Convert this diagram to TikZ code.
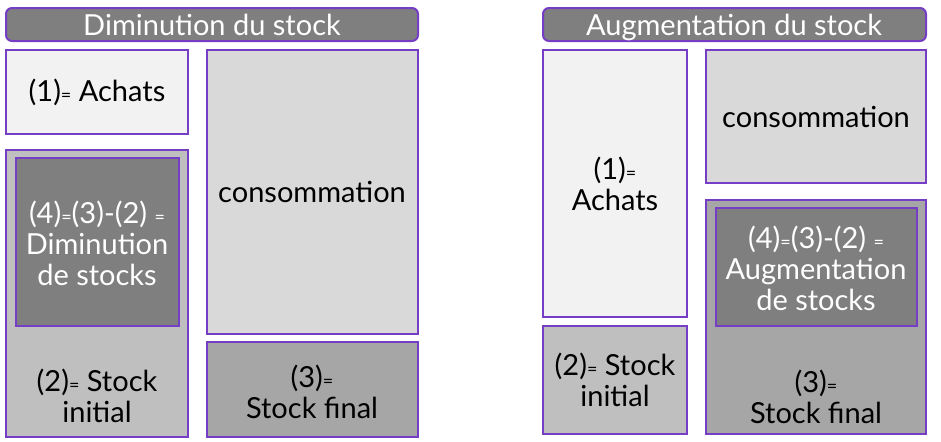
\documentclass[tikz,border=0pt]{standalone}
\usepackage{fontspec}
\setmainfont{Lato}
\definecolor{bord}{RGB}{118,62,196}
\definecolor{titre}{RGB}{127,127,127}
\definecolor{achat}{RGB}{242,242,242}
\definecolor{conso}{RGB}{217,217,217}
\definecolor{sinit}{RGB}{191,191,191}
\definecolor{sfinal}{RGB}{166,166,166}
\newcommand{\eg}{{\small=}}
\tikzset{
  box/.style={draw=bord, line width=1pt},
  txt/.style={align=center, inner sep=0pt, font=\fontsize{14.5}{15.5}\selectfont},
}
\begin{document}
\begin{tikzpicture}[x=0.5pt, y=-0.5pt]
\useasboundingbox (0,0) rectangle (941,441);

% Diminution du stock
\draw[box, fill=titre, rounded corners=3pt] (6,8) rectangle (418,41);
\node[txt, text=white, anchor=base] (titreg) at (212,35) {Diminution du stock};
\draw[box, fill=achat] (6,50) rectangle (188,134);
\node[txt, anchor=base] (achatg) at (97,101) {(1)\eg{} Achats};
\draw[box, fill=sinit] (6,150) rectangle (188,437);
\draw[box, fill=titre] (16,158) rectangle (179,326);
\node[txt, text=white] (dimin) at (97,243) {(4)\eg(3)-(2) \eg\\Diminution\\de stocks};
\node[txt] (sinitg) at (97,396) {(2)\eg{} Stock\\initial};
\draw[box, fill=conso] (207,50) rectangle (418,334);
\node[txt, anchor=base] (consog) at (312,202) {consommation};
\draw[box, fill=sfinal] (207,342) rectangle (418,437);
\node[txt] (sfinalg) at (312,392) {(3)\eg\\Stock final};

% Augmentation du stock
\draw[box, fill=titre, rounded corners=3pt] (543,8) rectangle (926,41);
\node[txt, text=white, anchor=base] (titred) at (734,35) {Augmentation du stock};
\draw[box, fill=achat] (543,50) rectangle (687,317);
\node[txt] (achatd) at (615,184) {(1)\eg\\Achats};
\draw[box, fill=sinit] (543,326) rectangle (687,434);
\node[txt] (sinitd) at (615,380) {(2)\eg{} Stock\\initial};
\draw[box, fill=conso] (706,50) rectangle (926,183);
\node[txt, anchor=base] (consod) at (816,127) {consommation};
\draw[box, fill=sfinal] (706,200) rectangle (926,434);
\draw[box, fill=titre] (716,208) rectangle (917,326);
\node[txt, text=white] (augm) at (816,268) {(4)\eg(3)-(2) \eg\\Augmentation\\de stocks};
\node[txt] (sfinald) at (816,397) {(3)\eg\\Stock final};
\end{tikzpicture}
\end{document}
